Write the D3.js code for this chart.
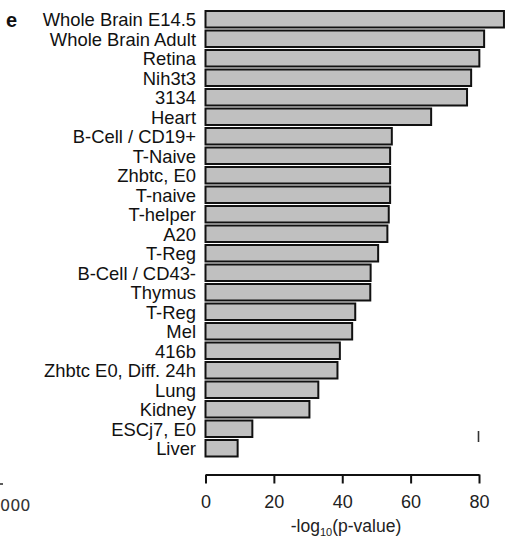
<!DOCTYPE html>
<html>
<head>
<meta charset="utf-8">
<script src="https://cdn.jsdelivr.net/npm/d3@7"></script>
<style>
  html, body { margin: 0; padding: 0; background: #fff; }
  svg { display: block; font-family: "Liberation Sans", Arial, sans-serif; }
</style>
</head>
<body>
<svg id="chart" width="506" height="551"></svg>
<script>
// Tissue / cell-type enrichment, ordered by significance
const categories = [
  "Whole Brain E14.5", "Whole Brain Adult", "Retina", "Nih3t3", "3134", "Heart",
  "B-Cell / CD19+", "T-Naive", "Zhbtc, E0", "T-naive", "T-helper", "A20", "T-Reg",
  "B-Cell / CD43-", "Thymus", "T-Reg", "Mel", "416b", "Zhbtc E0, Diff. 24h",
  "Lung", "Kidney", "ESCj7, E0", "Liver"
];
const negLogP = [
  87.3, 81.5, 80.1, 77.7, 76.5, 66.0,
  54.5, 54.0, 54.0, 54.0, 53.6, 53.2, 50.5,
  48.3, 48.2, 43.8, 42.9, 39.3, 38.6,
  33.0, 30.4, 13.7, 9.4
];
const xTicks = [0, 20, 40, 60, 80];

const svg = d3.select("#chart");

const x = d3.scaleLinear().domain([0, 80]).range([205.5, 479]);
const y = d3.scaleBand()
  .domain(d3.range(categories.length))
  .range([9.5, 458])
  .paddingInner(0.154)
  .paddingOuter(0.077);

// Bars
svg.append("g")
  .selectAll("rect")
  .data(negLogP)
  .join("rect")
    .attr("x", x(0))
    .attr("y", (d, i) => y(i))
    .attr("width", d => x(d) - x(0))
    .attr("height", y.bandwidth())
    .attr("fill", "#c0c0c0")
    .attr("stroke", "#111")
    .attr("stroke-width", 2);

// Category labels
svg.append("g")
  .selectAll("text")
  .data(categories)
  .join("text")
    .attr("x", 196)
    .attr("y", (d, i) => y(i) + y.bandwidth() / 2)
    .attr("dy", "0.38em")
    .attr("text-anchor", "end")
    .attr("font-size", 18.4)
    .attr("fill", "#111")
    .text(d => d);

// X axis
const axis = svg.append("g")
  .attr("transform", "translate(0,474.5)")
  .call(d3.axisBottom(x).tickValues(xTicks).tickSize(9).tickSizeOuter(0).tickPadding(12));
axis.select(".domain").attr("stroke", "#111").attr("stroke-width", 2);
axis.selectAll(".tick line").attr("stroke", "#111").attr("stroke-width", 2);
axis.selectAll(".tick text")
  .attr("font-size", 18)
  .attr("font-family", "\"Liberation Sans\", Arial, sans-serif")
  .attr("fill", "#222");

// Axis title with subscript
const title = svg.append("text")
  .attr("x", 346)
  .attr("y", 532)
  .attr("text-anchor", "middle")
  .attr("font-size", 17.5)
  .attr("fill", "#222");
title.append("tspan").text("-log");
title.append("tspan").attr("font-size", 11).attr("dy", 4).text("10");
title.append("tspan").attr("dy", -4).text("(p-value)");

// Panel letter
svg.append("text")
  .attr("x", 6)
  .attr("y", 27)
  .attr("font-size", 20)
  .attr("font-weight", "bold")
  .attr("fill", "#111")
  .text("e");

// Small stray marks at the panel edges
svg.append("line")
  .attr("x1", 478.5).attr("x2", 478.5)
  .attr("y1", 431).attr("y2", 442)
  .attr("stroke", "#333").attr("stroke-width", 1.6);
svg.append("line")
  .attr("x1", 0).attr("x2", 3)
  .attr("y1", 484).attr("y2", 484)
  .attr("stroke", "#333").attr("stroke-width", 1.6);
svg.append("text")
  .attr("x", 0)
  .attr("y", 511)
  .attr("font-size", 16)
  .attr("font-family", "\"DejaVu Sans\", sans-serif")
  .attr("fill", "#333")
  .text("000");
</script>
</body>
</html>
